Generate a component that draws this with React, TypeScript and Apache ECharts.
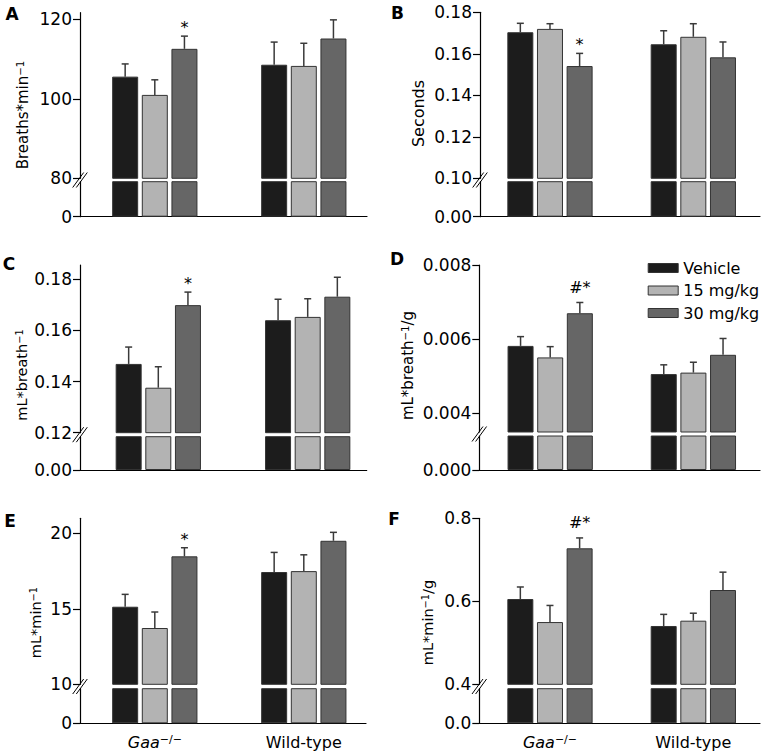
import React, { useEffect, useRef } from 'react';
import * as echarts from 'echarts';

const FONT = 'DejaVu Sans';

const groups = ['Gaa', 'Wild-type'];
const doses = ['Vehicle', '15 mg/kg', '30 mg/kg'];
const doseColors = ['#1c1c1c', '#b3b3b3', '#666666'];

// A – breaths per minute
const freqGaa = [105.6, 101.0, 112.6];
const freqGaaSem = [3.2, 3.8, 3.2];
const freqWT = [108.6, 108.3, 115.2];
const freqWTSem = [5.7, 5.7, 4.7];
const freqMarks = ['', '', '*'];
const freqTicks = [80, 100, 120];

// B – seconds
const tiGaa = [0.1704, 0.172, 0.1541];
const tiGaaSem = [0.0043, 0.0025, 0.0061];
const tiWT = [0.1646, 0.1682, 0.1583];
const tiWTSem = [0.0065, 0.0063, 0.0074];
const tiMarks = ['', '', '*'];
const tiTicks = [0.1, 0.12, 0.14, 0.16, 0.18];

// C – mL per breath
const tvGaa = [0.1469, 0.1376, 0.1699];
const tvGaaSem = [0.0066, 0.0082, 0.0051];
const tvWT = [0.164, 0.1653, 0.1732];
const tvWTSem = [0.0082, 0.0071, 0.0076];
const tvMarks = ['', '', '*'];
const tvTicks = [0.12, 0.14, 0.16, 0.18];

// D – mL per breath per g
const tvgGaa = [0.00582, 0.00551, 0.0067];
const tvgGaaSem = [0.00025, 0.00029, 0.00029];
const tvgWT = [0.00506, 0.0051, 0.00558];
const tvgWTSem = [0.00025, 0.00028, 0.00044];
const tvgMarks = ['', '', '#*'];
const tvgTicks = [0.004, 0.006, 0.008];

// E – mL per minute
const mvGaa = [15.14, 13.73, 18.48];
const mvGaaSem = [0.82, 1.06, 0.57];
const mvWT = [17.44, 17.5, 19.51];
const mvWTSem = [1.3, 1.08, 0.56];
const mvMarks = ['', '', '*'];
const mvTicks = [10, 15, 20];

// F – mL per minute per g
const mvgGaa = [0.6055, 0.55, 0.7277];
const mvgGaaSem = [0.029, 0.04, 0.025];
const mvgWT = [0.5405, 0.5533, 0.6272];
const mvgWTSem = [0.028, 0.018, 0.043];
const mvgMarks = ['', '', '#*'];
const mvgTicks = [0.4, 0.6, 0.8];

const panels = [
  {
    letter: 'A', name: '{m|Breaths*min}{s|−1}',
    gaa: freqGaa, gaaSem: freqGaaSem, wt: freqWT, wtSem: freqWTSem, marks: freqMarks,
    ticks: freqTicks, breakMin: 80, max: 121.7, dec: 0, showX: false,
    L: { axisX: 80, barLeft: 80.3, band: 149, top: 12.7, breakY: 178.3, lowTop: 181.7, baseY: 216.7, baseRight: 367,
      letterX: 12, letterY: 14, nameX: 23, nameY: 115, nameSize: 15 },
  },
  {
    letter: 'B', name: '{m|Seconds}',
    gaa: tiGaa, gaaSem: tiGaaSem, wt: tiWT, wtSem: tiWTSem, marks: tiMarks,
    ticks: tiTicks, breakMin: 0.1, max: 0.18, dec: 2, showX: false,
    L: { axisX: 480, barLeft: 478.3, band: 149.5, top: 12.3, breakY: 178.3, lowTop: 181.7, baseY: 216.7, baseRight: 760,
      letterX: 397.5, letterY: 12.5, nameX: 418, nameY: 113.5, nameSize: 16 },
  },
  {
    letter: 'C', name: '{m|mL*breath}{s|−1}',
    gaa: tvGaa, gaaSem: tvGaaSem, wt: tvWT, wtSem: tvWTSem, marks: tvMarks,
    ticks: tvTicks, breakMin: 0.12, max: 0.1856, dec: 2, showX: false,
    L: { axisX: 80, barLeft: 83.6, band: 149.4, top: 265, breakY: 432.7, lowTop: 436.7, baseY: 470, baseRight: 366.7,
      letterX: 9, letterY: 264, nameX: 21.5, nameY: 375, nameSize: 14.5 },
  },
  {
    letter: 'D', name: '{m|mL*breath}{s|−1}{m|/g}',
    gaa: tvgGaa, gaaSem: tvgGaaSem, wt: tvgWT, wtSem: tvgWTSem, marks: tvgMarks,
    ticks: tvgTicks, breakMin: 0.0035, max: 0.008, dec: 3, showX: false,
    L: { axisX: 479.3, barLeft: 478.6, band: 149.5, top: 265, breakY: 432, lowTop: 436, baseY: 470, baseRight: 760,
      letterX: 397, letterY: 259, nameX: 408, nameY: 365.5, nameSize: 15 },
  },
  {
    letter: 'E', name: '{m|mL*min}{s|−1}',
    gaa: mvGaa, gaaSem: mvGaaSem, wt: mvWT, wtSem: mvWTSem, marks: mvMarks,
    ticks: mvTicks, breakMin: 10, max: 21, dec: 0, showX: true,
    L: { axisX: 80, barLeft: 80.3, band: 149, top: 518.3, breakY: 684.3, lowTop: 688.7, baseY: 723.3, baseRight: 366,
      letterX: 10, letterY: 521, nameX: 36.4, nameY: 622.5, nameSize: 14.5 },
  },
  {
    letter: 'F', name: '{m|mL*min}{s|−1}{m|/g}',
    gaa: mvgGaa, gaaSem: mvgGaaSem, wt: mvgWT, wtSem: mvgWTSem, marks: mvgMarks,
    ticks: mvgTicks, breakMin: 0.4, max: 0.8, dec: 1, showX: true,
    L: { axisX: 479.3, barLeft: 478.3, band: 149.5, top: 518.3, breakY: 684.3, lowTop: 688.7, baseY: 723.3, baseRight: 760,
      letterX: 394, letterY: 519, nameX: 428, nameY: 622.5, nameSize: 14.5 },
  },
];

const BAR_W = 26;
const BAR_GAP = 0.14;
const AXIS_STYLE = { color: '#000', width: 1.2 };

function buildOption() {
  const grid: any[] = [];
  const xAxis: any[] = [];
  const yAxis: any[] = [];
  const series: any[] = [];
  const graphic: any[] = [];

  panels.forEach((p) => {
    const L = p.L;
    const g = grid.length;
    const fmt = (v: any) => Number(v).toFixed(p.dec);
    const off = L.barLeft - L.axisX;
    grid.push({ left: L.barLeft, top: L.top, width: 2 * L.band, height: L.breakY - L.top });
    grid.push({ left: L.barLeft, top: L.lowTop, width: 2 * L.band, height: L.baseY - L.lowTop });
    grid.push({ left: L.axisX, top: L.baseY - 1, width: L.baseRight - L.axisX, height: 1 });

    const labelStyle = { color: '#000', fontSize: 17, fontFamily: FONT, margin: 8 };

    // upper segment
    xAxis.push({ gridIndex: g, type: 'category', data: groups, show: false });
    yAxis.push({
      gridIndex: g, type: 'value', min: p.breakMin, max: p.max, offset: off,
      axisLine: { show: true, lineStyle: AXIS_STYLE },
      axisTick: { show: true, length: 7, customValues: p.ticks, lineStyle: AXIS_STYLE },
      axisLabel: { ...labelStyle, customValues: p.ticks, formatter: fmt },
      splitLine: { show: false },
    });
    // lower segment
    xAxis.push({
      gridIndex: g + 1, type: 'category', data: groups,
      axisLine: { show: false }, axisTick: { show: false },
      axisLabel: {
        show: p.showX, interval: 0, margin: 11, color: '#000',
        formatter: (v: string) => (v === 'Gaa' ? '{i|Gaa}{s|−/−}' : '{n|' + v + '}'),
        rich: {
          i: { fontSize: 16, fontFamily: FONT, fontStyle: 'italic', color: '#000' },
          s: { fontSize: 11, fontFamily: FONT, verticalAlign: 'top', color: '#000' },
          n: { fontSize: 16, fontFamily: FONT, color: '#000' },
        },
      },
    });
    yAxis.push({
      gridIndex: g + 1, type: 'value', min: 0, max: p.breakMin, offset: off,
      axisLine: { show: true, lineStyle: AXIS_STYLE },
      axisTick: { show: true, length: 7, customValues: [0], lineStyle: AXIS_STYLE },
      axisLabel: { ...labelStyle, customValues: [0], formatter: fmt },
      splitLine: { show: false },
    });
    // baseline
    xAxis.push({
      gridIndex: g + 2, type: 'value', min: 0, max: 1,
      axisLine: { show: true, onZero: false, lineStyle: AXIS_STYLE },
      axisTick: { show: false }, axisLabel: { show: false }, splitLine: { show: false },
    });
    yAxis.push({ gridIndex: g + 2, type: 'value', min: 0, max: 1, show: false });

    doses.forEach((d, di) => {
      const vals = [p.gaa[di], p.wt[di]];
      const sems = [p.gaaSem[di], p.wtSem[di]];
      const marks = [p.marks[di], ''];
      const itemStyle = { color: doseColors[di], borderColor: '#333', borderWidth: 1 };
      [g, g + 1].forEach((gi) => {
        series.push({
          type: 'bar', name: d, xAxisIndex: gi, yAxisIndex: gi, data: vals,
          barWidth: BAR_W, barGap: BAR_GAP * 100 + '%', clip: true, itemStyle,
          emphasis: { disabled: true },
        });
      });
      const offsetPx = (di - 1) * BAR_W * (1 + BAR_GAP);
      series.push({
        type: 'custom', name: 'err-' + d, xAxisIndex: g, yAxisIndex: g, clip: false, z: 3,
        data: vals.map((v, i) => [i, v, sems[i]]),
        renderItem: (params: any, api: any) => {
          const cat = api.value(0);
          const mean = api.value(1);
          const sem = api.value(2);
          const p0 = api.coord([cat, mean]);
          const p1 = api.coord([cat, mean + sem]);
          const x = p0[0] + offsetPx;
          const st = { stroke: '#3a3a3a', lineWidth: 1.5 };
          const children: any[] = [
            { type: 'line', shape: { x1: x, y1: p0[1], x2: x, y2: p1[1] }, style: st },
            { type: 'line', shape: { x1: x - 3.5, y1: p1[1], x2: x + 3.5, y2: p1[1] }, style: st },
          ];
          const mk = marks[params.dataIndex];
          if (mk) {
            children.push({
              type: 'text', x, y: p1[1] - (mk.indexOf('#') >= 0 ? 15 : 8.5),
              style: { text: mk, fontSize: 16, fontFamily: FONT, fill: '#000', align: 'center', verticalAlign: 'middle' },
            });
          }
          return { type: 'group', children };
        },
      });
    });

    // panel letter
    graphic.push({
      type: 'text', x: L.letterX, y: L.letterY,
      style: { text: p.letter, fontSize: 17, fontWeight: 'bold', fontFamily: FONT, fill: '#000', align: 'center', verticalAlign: 'middle' },
    });
    // axis name
    graphic.push({
      type: 'text', x: L.nameX, y: L.nameY, rotation: Math.PI / 2,
      style: {
        text: p.name, align: 'center', verticalAlign: 'middle', fill: '#000',
        rich: {
          m: { fontSize: L.nameSize, fontFamily: FONT, fill: '#000' },
          s: { fontSize: L.nameSize * 0.68, fontFamily: FONT, fill: '#000', verticalAlign: 'top' },
        },
      },
    });
    // break marks
    const cy = (L.breakY + L.lowTop) / 2;
    [-1.8, 1.8].forEach((dx) => {
      graphic.push({
        type: 'line', z: 100,
        shape: { x1: L.axisX + dx - 5.5, y1: cy + 7.5, x2: L.axisX + dx + 5.5, y2: cy - 7.5 },
        style: { stroke: '#000', lineWidth: 1 },
      });
    });
  });

  return {
    animation: false,
    backgroundColor: '#fff',
    textStyle: { fontFamily: FONT },
    grid,
    xAxis,
    yAxis,
    series,
    graphic,
    legend: {
      data: doses, orient: 'vertical', left: 642.7, top: 255,
      itemWidth: 30, itemHeight: 9, itemGap: 6.5, icon: 'rect', selectedMode: false,
      itemStyle: { borderColor: '#333', borderWidth: 1 },
      textStyle: { fontSize: 16, fontFamily: FONT, color: '#000' },
    },
  };
}

export default function App() {
  const ref = useRef<HTMLDivElement>(null);
  useEffect(() => {
    document.body.style.margin = '0';
    const chart = echarts.init(ref.current!, null, { renderer: 'svg' });
    chart.setOption(buildOption() as any);
    return () => chart.dispose();
  }, []);
  return <div ref={ref} style={{ width: 765, height: 756 }} />;
}
